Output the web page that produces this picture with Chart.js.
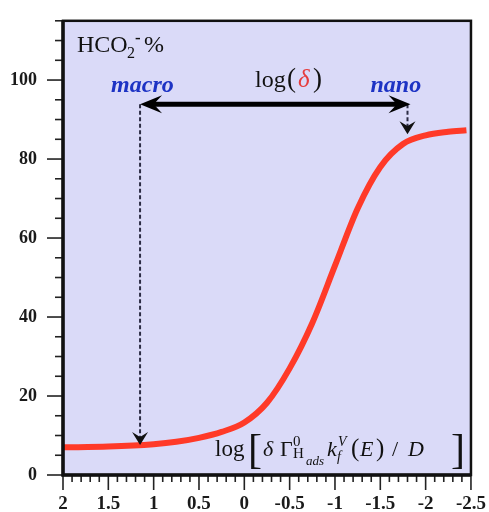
<!DOCTYPE html>
<html>
<head>
<meta charset="utf-8">
<script src="https://cdn.jsdelivr.net/npm/chart.js@4.4.1/dist/chart.umd.min.js"></script>
<style>
  html, body { margin: 0; padding: 0; background: #fff; }
  #wrap { width: 489px; height: 512px; }
</style>
</head>
<body>
<div id="wrap"><canvas id="curve"></canvas></div>
<script>
// log[δ Γ k / D] on the x axis (reversed), formate selectivity on y
const logParam = [2.0, 1.5, 1.0, 0.75, 0.5, 0.25, 0.0, -0.25, -0.5, -0.75, -1.0, -1.25, -1.5, -1.75, -2.0, -2.25, -2.45]
const formatePct = [7.0, 7.2, 7.8, 8.4, 9.4, 10.9, 13.3, 18.3, 27, 38.5, 53, 67.5, 78, 83.8, 86, 86.9, 87.3]

const yMajorTicks = [0, 20, 40, 60, 80, 100]

// macro / nano markers (data units)
const macroX = 1.15
const macroY = 7.6
const nanoX = -1.8
const nanoY = 86.3
const arrowY = 93.9

const SERIF = "'Liberation Serif', 'DejaVu Serif', serif"
const PLOT_BG = '#dadaf8'
const CURVE_RED = '#ff3a28'
const LABEL_BLUE = '#1d33c4'

function isHalf(v) {
  return Math.abs(v * 2 - Math.round(v * 2)) < 1e-6
}

function arrowHead(ctx, x, y, angle, len, half) {
  ctx.save()
  ctx.translate(x, y)
  ctx.rotate(angle)
  ctx.beginPath()
  ctx.moveTo(0, 0)
  ctx.lineTo(-len, -half)
  ctx.lineTo(-len * 0.62, 0)
  ctx.lineTo(-len, half)
  ctx.closePath()
  ctx.fill()
  ctx.restore()
}

// text pieces placed at x offsets from an origin
function drawPieces(ctx, x0, y0, pieces) {
  pieces.forEach(p => {
    ctx.font = p.font
    ctx.fillStyle = p.color || '#111'
    ctx.fillText(p.t, x0 + p.x, y0 + (p.dy || 0))
  })
}

const framePlugin = {
  id: 'frame',
  beforeDraw(chart) {
    const { ctx, chartArea: a } = chart
    ctx.save()
    ctx.fillStyle = '#fff'
    ctx.fillRect(0, 0, chart.width, chart.height)
    ctx.fillStyle = PLOT_BG
    ctx.fillRect(a.left, a.top, a.right - a.left, a.bottom - a.top)
    ctx.restore()
  },
  afterDraw(chart) {
    const { ctx, chartArea: a } = chart
    const xs = chart.scales.x
    const ys = chart.scales.y
    ctx.save()

    // tick marks, long on major values
    ctx.strokeStyle = '#222'
    ctx.lineWidth = 1.6
    ys.ticks.forEach(t => {
      const py = ys.getPixelForValue(t.value)
      const len = yMajorTicks.includes(t.value) ? 16 : 8
      ctx.beginPath()
      ctx.moveTo(a.left - len, py)
      ctx.lineTo(a.left, py)
      ctx.stroke()
    })
    xs.ticks.forEach(t => {
      const px = xs.getPixelForValue(t.value)
      const len = isHalf(t.value) ? 15 : 7
      ctx.beginPath()
      ctx.moveTo(px, a.bottom)
      ctx.lineTo(px, a.bottom + len)
      ctx.stroke()
    })

    // plot frame
    ctx.strokeStyle = '#111'
    ctx.lineWidth = 2.5
    ctx.strokeRect(a.left, a.top, a.right - a.left, a.bottom - a.top)
    ctx.lineWidth = 3.5
    ctx.beginPath()
    ctx.moveTo(a.left, a.top)
    ctx.lineTo(a.left, a.bottom)
    ctx.lineTo(a.right, a.bottom)
    ctx.stroke()

    // dashed drop lines
    const mx = xs.getPixelForValue(macroX)
    const nx = xs.getPixelForValue(nanoX)
    const ay = ys.getPixelForValue(arrowY)
    const my = ys.getPixelForValue(macroY)
    const ny = ys.getPixelForValue(nanoY)
    ctx.strokeStyle = '#2c2c44'
    ctx.lineWidth = 2
    ctx.setLineDash([4, 2.5])
    ctx.beginPath()
    ctx.moveTo(mx, ay)
    ctx.lineTo(mx, my - 6)
    ctx.moveTo(nx, ay)
    ctx.lineTo(nx, ny - 6)
    ctx.stroke()
    ctx.setLineDash([])
    ctx.fillStyle = '#111'
    arrowHead(ctx, mx, my, Math.PI / 2, 13, 8)
    arrowHead(ctx, nx, ny, Math.PI / 2, 13, 8)

    // log(δ) double arrow
    ctx.strokeStyle = '#000'
    ctx.fillStyle = '#000'
    ctx.lineWidth = 5
    ctx.beginPath()
    ctx.moveTo(mx + 12, ay)
    ctx.lineTo(nx - 8, ay)
    ctx.stroke()
    arrowHead(ctx, mx, ay, Math.PI, 22, 9)
    arrowHead(ctx, nx + 3, ay, 0, 22, 9)

    // texts
    ctx.textBaseline = 'alphabetic'
    ctx.textAlign = 'left'
    drawPieces(ctx, a.left + 14, a.top + 31, [
      { t: 'HCO', x: 0, font: `24px ${SERIF}` },
      { t: '2', x: 50, dy: 6, font: `16px ${SERIF}` },
      { t: '-', x: 58, dy: -9, font: `bold 17px ${SERIF}` },
      { t: '%', x: 67, font: `24px ${SERIF}` }
    ])

    ctx.font = `bold italic 24px ${SERIF}`
    ctx.fillStyle = LABEL_BLUE
    ctx.fillText('macro', mx - 29, a.top + 71)
    ctx.fillText('nano', nx - 37, a.top + 71)

    drawPieces(ctx, a.left + 192, a.top + 66, [
      { t: 'log', x: 0, font: `24px ${SERIF}` },
      { t: '(', x: 32, font: `27px ${SERIF}` },
      { t: 'δ', x: 43, font: `italic 25px ${SERIF}`, color: '#e63c3c' },
      { t: ')', x: 58, font: `27px ${SERIF}` }
    ])

    drawPieces(ctx, a.left + 152, a.bottom - 19, [
      { t: 'log', x: 0, font: `23px ${SERIF}` },
      { t: '[', x: 33, dy: 7, font: `42px ${SERIF}` },
      { t: 'δ', x: 48, font: `italic 22px ${SERIF}` },
      { t: 'Γ', x: 65, font: `22px ${SERIF}` },
      { t: '0', x: 78, dy: -10, font: `15px ${SERIF}` },
      { t: 'H', x: 78, dy: 2, font: `15px ${SERIF}` },
      { t: 'ads', x: 91, dy: 9, font: `italic 13px ${SERIF}` },
      { t: 'k', x: 112, font: `italic 22px ${SERIF}` },
      { t: 'V', x: 123, dy: -10, font: `italic 14px ${SERIF}` },
      { t: 'f', x: 122, dy: 5, font: `italic 14px ${SERIF}` },
      { t: '(', x: 136, font: `25px ${SERIF}` },
      { t: 'E', x: 145, font: `italic 22px ${SERIF}` },
      { t: ')', x: 161, font: `25px ${SERIF}` },
      { t: '/', x: 177, font: `22px ${SERIF}` },
      { t: 'D', x: 193, font: `italic 22px ${SERIF}` },
      { t: ']', x: 236, dy: 7, font: `42px ${SERIF}` }
    ])

    ctx.restore()
  }
}

new Chart(document.getElementById('curve'), {
  type: 'line',
  data: {
    datasets: [{
      data: logParam.map((x, i) => ({ x, y: formatePct[i] })),
      borderColor: CURVE_RED,
      borderWidth: 6,
      pointRadius: 0,
      cubicInterpolationMode: 'monotone',
      fill: false
    }]
  },
  options: {
    responsive: true,
    maintainAspectRatio: false,
    animation: false,
    layout: { autoPadding: false, padding: { top: 13, right: 14, left: 0, bottom: 0 } },
    plugins: { legend: { display: false }, tooltip: { enabled: false } },
    scales: {
      x: {
        type: 'linear',
        reverse: true,
        min: -2.5,
        max: 2,
        afterFit: s => { s.height = 37 },
        border: { display: false },
        grid: { drawOnChartArea: false, tickLength: 15, tickColor: 'rgba(0,0,0,0)' },
        ticks: {
          stepSize: 0.1,
          autoSkip: false,
          maxRotation: 0,
          padding: 3,
          color: '#1a1a1a',
          font: { family: SERIF, size: 19, weight: 'bold' },
          callback: v => isHalf(v) ? String(Math.round(v * 2) / 2) : ''
        }
      },
      y: {
        min: 0,
        max: 115,
        afterFit: s => { s.width = 63 },
        border: { display: false },
        grid: { drawOnChartArea: false, tickLength: 16, tickColor: 'rgba(0,0,0,0)' },
        ticks: {
          stepSize: 5,
          autoSkip: false,
          padding: 10,
          color: '#1a1a1a',
          font: { family: SERIF, size: 18, weight: 'bold' },
          callback: v => yMajorTicks.includes(v) ? String(v) : ''
        }
      }
    }
  },
  plugins: [framePlugin]
})
</script>
</body>
</html>
